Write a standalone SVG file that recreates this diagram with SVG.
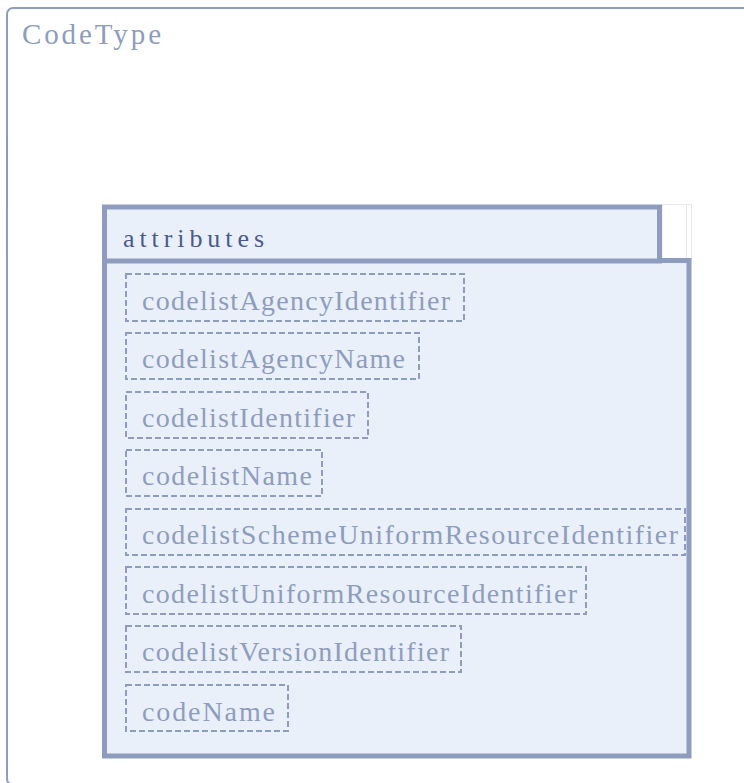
<svg xmlns="http://www.w3.org/2000/svg" width="744" height="783" viewBox="0 0 744 783">
<style>
.outer{fill:#ffffff;stroke:#8E9DBD;stroke-width:2}
.panel{fill:#EAF0FA;stroke:#8E9DBD;stroke-width:5}
.attr{fill:#EAF0FA;stroke:#8E9DBD;stroke-width:2;stroke-dasharray:6 3}
.t{font-family:"Liberation Serif","Times New Roman",serif}
.title{font-size:29px;fill:#8E9DBD}
.hdr{font-size:26px;fill:#4A5A8E}
.name{font-size:28px;fill:#8E9DBD}
</style>
<g id="CodeType">
<rect class="outer" x="7" y="8" width="770" height="777" rx="6"/>
<text class="t title" x="22" y="44" textLength="139" lengthAdjust="spacing">CodeType</text>
</g>
<g id="attributes">
<rect x="662" y="204.5" width="29.5" height="54" fill="#ffffff" stroke="#E4E8EF" stroke-width="1"/>
<line x1="686.5" y1="205" x2="686.5" y2="258" stroke="#E4E8EF" stroke-width="1"/>
<rect class="panel" x="104.5" y="260.5" width="584.5" height="495.5"/>
<rect class="panel" x="104.5" y="207" width="555" height="54"/>
<text class="t hdr" x="123" y="247" textLength="141" lengthAdjust="spacing">attributes</text>
</g>
<g id="codelistAgencyIdentifier">
<rect class="attr" x="126" y="274" width="338" height="47"/>
<text class="t name" x="142" y="309.5" textLength="308" lengthAdjust="spacing">codelistAgencyIdentifier</text>
</g>
<g id="codelistAgencyName">
<rect class="attr" x="126" y="333" width="293" height="46"/>
<text class="t name" x="142" y="368" textLength="263" lengthAdjust="spacing">codelistAgencyName</text>
</g>
<g id="codelistIdentifier">
<rect class="attr" x="126" y="392" width="242" height="46"/>
<text class="t name" x="142" y="427" textLength="213" lengthAdjust="spacing">codelistIdentifier</text>
</g>
<g id="codelistName">
<rect class="attr" x="126" y="450" width="196" height="46"/>
<text class="t name" x="142" y="485.3" textLength="170" lengthAdjust="spacing">codelistName</text>
</g>
<g id="codelistSchemeUniformResourceIdentifier">
<rect class="attr" x="126" y="509" width="559" height="46"/>
<text class="t name" x="142" y="544" textLength="536" lengthAdjust="spacing">codelistSchemeUniformResourceIdentifier</text>
</g>
<g id="codelistUniformResourceIdentifier">
<rect class="attr" x="126" y="567" width="460" height="47"/>
<text class="t name" x="142" y="602.7" textLength="435" lengthAdjust="spacing">codelistUniformResourceIdentifier</text>
</g>
<g id="codelistVersionIdentifier">
<rect class="attr" x="126" y="626" width="335" height="46"/>
<text class="t name" x="142" y="661.3" textLength="307" lengthAdjust="spacing">codelistVersionIdentifier</text>
</g>
<g id="codeName">
<rect class="attr" x="126" y="685" width="162" height="46"/>
<text class="t name" x="142" y="720.5" textLength="133" lengthAdjust="spacing">codeName</text>
</g>
<g id="connectors"></g>
</svg>
